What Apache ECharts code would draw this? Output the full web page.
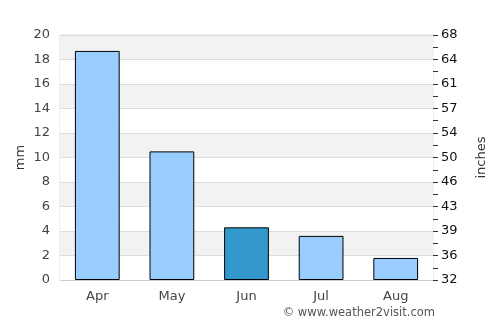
<!DOCTYPE html>
<html>
<head>
<meta charset="utf-8">
<script src="https://cdn.jsdelivr.net/npm/echarts@6/dist/echarts.min.js"></script>
<style>
  body { margin: 0; background: #fff; }
  #chart { width: 500px; height: 325px; }
</style>
</head>
<body>
<div id="chart"></div>
<script>
const months = ["Apr", "May", "Jun", "Jul", "Aug"];
const rainMm = [18.7, 10.5, 4.3, 3.6, 1.8];
const highlight = "Jun";

var chartDom = document.getElementById("chart");
var mychart = echarts.init(chartDom);

var option = {
  animation: false,
  textStyle: { fontFamily: "DejaVu Sans" },
  grid: {
    left: 60,
    right: 67,
    top: 35,
    bottom: 45,
    show: true,
    borderColor: "#dddddd",
    borderWidth: 1,
  },
  xAxis: {
    type: "category",
    data: months,
    axisLine: { lineStyle: { color: "#cccccc" } },
    axisTick: { show: false },
    axisLabel: { color: "#444", fontSize: 13, margin: 10 },
  },
  yAxis: [
    {
      type: "value",
      min: 0,
      max: 20,
      interval: 2,
      name: "mm",
      nameLocation: "middle",
      nameRotate: 90,
      nameGap: 33,
      nameMoveOverlap: false,
      nameTextStyle: { color: "#333", fontSize: 13 },
      axisLine: { show: false },
      axisTick: { show: false },
      axisLabel: { color: "#444", fontSize: 13, margin: 10 },
      splitLine: { lineStyle: { color: "#dddddd" } },
      splitArea: { show: true, areaStyle: { color: ["#ffffff", "#f2f2f2"] } },
    },
    {
      type: "value",
      min: 32,
      max: 68,
      interval: 3.6,
      name: "inches",
      nameLocation: "middle",
      nameRotate: 90,
      nameGap: 42,
      nameMoveOverlap: false,
      nameTextStyle: { color: "#333", fontSize: 13 },
      position: "right",
      axisLine: { show: false },
      axisTick: { show: true, length: 5, lineStyle: { color: "#333" } },
      minorTick: { show: true, splitNumber: 2, length: 5, lineStyle: { color: "#333" } },
      axisLabel: {
        color: "#111",
        fontSize: 13,
        margin: 8,
        formatter: function (v) { return Math.round(v); },
      },
      splitLine: { show: false },
    },
  ],
  series: [
    {
      type: "bar",
      yAxisIndex: 0,
      barWidth: "60%",
      data: rainMm.map(function (v, i) {
        return {
          value: v,
          itemStyle: { color: months[i] === highlight ? "#3399cc" : "#99ccff" },
        };
      }),
      itemStyle: { borderColor: "#000", borderWidth: 1 },
    },
  ],
  graphic: [
    {
      type: "text",
      right: 65,
      bottom: 6,
      style: { text: "© www.weather2visit.com", fill: "#555", fontSize: 11.5, fontFamily: "DejaVu Sans" },
    },
  ],
};

mychart.setOption(option);
</script>
</body>
</html>
